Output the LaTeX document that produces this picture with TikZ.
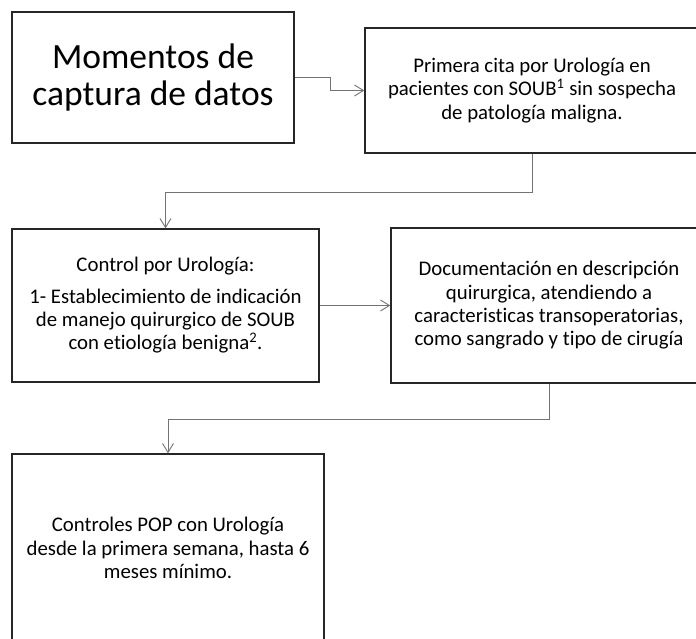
\documentclass[tikz,border=0pt]{standalone}
\usepackage{fontspec}
\setmainfont{Carlito}[Ligatures={NoCommon}]
\usetikzlibrary{arrows.meta}
\begin{document}
\begin{tikzpicture}[x=1pt,y=-1pt,
  box/.style={draw=black!85,line width=1.4pt,fill=white,align=center,inner sep=0pt,
    font=\fontsize{20.8}{23.3}\selectfont},
  link/.style={draw=black!55,line width=1pt,-{Straight Barb[length=9pt,width=11pt,line width=0.9pt]}}]
\useasboundingbox (0,0) rectangle (696,638);
\clip (0,0) rectangle (696,638);
\node[box,minimum width=282,minimum height=131,font=\fontsize{35.5}{37}\selectfont] (b1) at (153,77.5)
  {Momentos de\\captura de datos};
\node[box,minimum width=334,minimum height=125] (b2) at (532,90.5)
  {Primera cita por Urología en\\pacientes con SOUB\textsuperscript{1} sin sospecha\\de patología maligna.};
\node[box,minimum width=307,minimum height=153] (b3) at (165.5,305.5)
  {Control por Urología:\\[8pt]1- Establecimiento de indicación\\de manejo quirurgico de SOUB\\con etiología benigna\textsuperscript{2}.};
\node[box,minimum width=316,minimum height=155] (b4) at (549,305.5)
  {Documentación en descripción\\quirurgica, atendiendo a\\caracteristicas transoperatorias,\\como sangrado y tipo de cirugía};
\node[box,minimum width=312,minimum height=188] (b5) at (168,548)
  {Controles POP con Urología\\desde la primera semana, hasta 6\\meses mínimo.};
\draw[link] (b1.east) -- ++(36,0) |- (b2.west);
\draw[link] (b2.south) -- ++(0,39) -| (b3.north);
\draw[link] (b3.east) -- (b4.west);
\draw[link] (b4.south) -- ++(0,36) -| (b5.north);
\end{tikzpicture}
\end{document}
